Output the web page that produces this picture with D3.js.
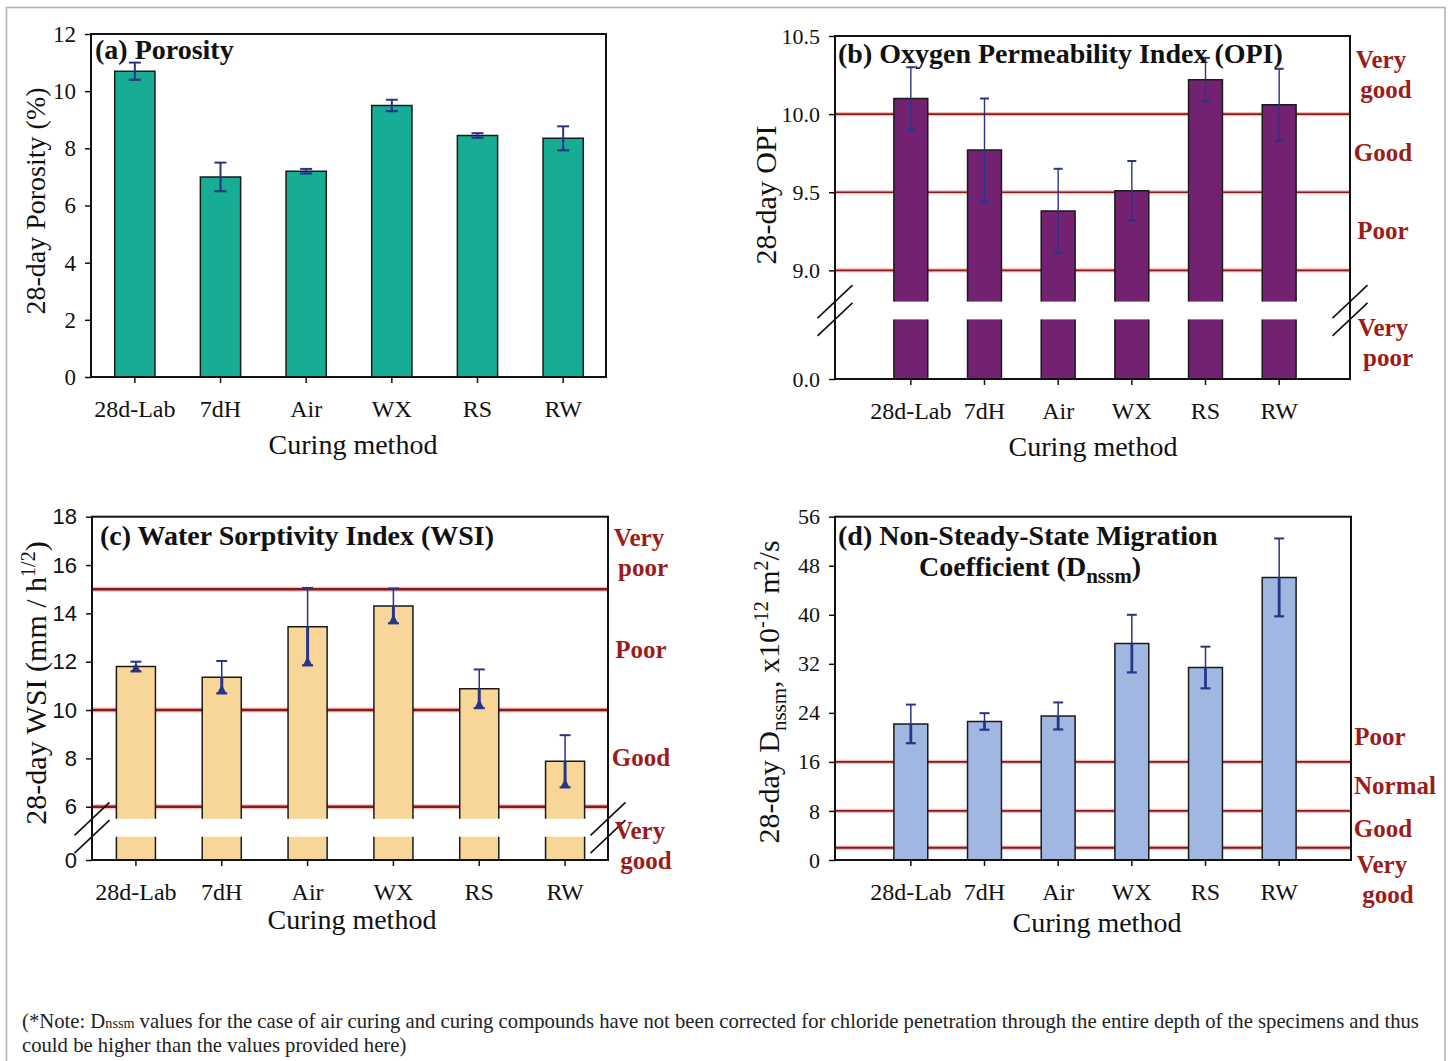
<!DOCTYPE html>
<html>
<head>
<meta charset="utf-8">
<script src="https://cdn.jsdelivr.net/npm/d3@7"></script>
<style>
  body { margin: 0; background: #fff; }
  svg { display: block; }
</style>
</head>
<body>
<svg id="fig" width="1450" height="1061"></svg>
<script>
// Curing methods shared by all four panels
const categories = ["28d-Lab", "7dH", "Air", "WX", "RS", "RW"];

// (a) 28-day porosity (%)
const porosity    = [10.7, 7.0, 7.2, 9.5, 8.45, 8.35];
const porosityErr = [0.3, 0.5, 0.08, 0.2, 0.08, 0.42];
const porosityTicks = [0, 2, 4, 6, 8, 10, 12];

// (b) 28-day oxygen permeability index
const opi    = [10.10, 9.77, 9.38, 9.51, 10.22, 10.06];
const opiErr = [0.20, 0.33, 0.27, 0.19, 0.14, 0.23];
const opiTicksUpper = [9.0, 9.5, 10.0, 10.5];
const opiTicksLower = [0.0];
const opiLimits = [9.0, 9.5, 10.0];
const opiClasses = [["Very", "good"], ["Good"], ["Poor"], ["Very", "poor"]];

// (c) 28-day water sorptivity index (mm / h^1/2)
const wsi    = [11.8, 11.36, 13.45, 14.31, 10.88, 7.88];
const wsiErr = [0.2, 0.67, 1.6, 0.72, 0.8, 1.08];
const wsiTicksUpper = [6, 8, 10, 12, 14, 16, 18];
const wsiTicksLower = [0];
const wsiLimits = [6, 10, 15];
const wsiClasses = [["Very", "poor"], ["Poor"], ["Good"], ["Very", "good"]];

// (d) 28-day non-steady-state migration coefficient (x10^-12 m2/s)
const dnssm    = [22.2, 22.6, 23.5, 35.3, 31.4, 46.1];
const dnssmErr = [3.15, 1.35, 2.2, 4.7, 3.4, 6.35];
const dnssmTicks = [0, 8, 16, 24, 32, 40, 48, 56];
const dnssmLimits = [2, 8, 16];
const dnssmClasses = [["Poor"], ["Normal"], ["Good"], ["Very", "good"]];

const noteText = "values for the case of air curing and curing compounds have not been corrected for chloride penetration through the entire depth of the specimens and thus";
const noteText2 = "could be higher than the values provided here)";

// ---------------------------------------------------------------------------
const SERIF = "'Liberation Serif','Times New Roman',serif";
const SANS = "'Liberation Sans',Arial,sans-serif";
const RED = "#9c1c1c";
const ERR = "#2a3486";

const svg = d3.select("#fig");

// outer figure border
svg.append("rect")
  .attr("x", 6.5).attr("y", 7.5).attr("width", 1438.5).attr("height", 1080)
  .attr("fill", "none").attr("stroke", "#b4b4b4").attr("stroke-width", 1.6);

function slash(g, cx, cy) {
  g.append("line")
    .attr("x1", cx - 17.5).attr("y1", cy + 16.5)
    .attr("x2", cx + 17.5).attr("y2", cy - 16.5)
    .attr("stroke", "#111").attr("stroke-width", 1.6);
}

function panel(o) {
  const g = svg.append("g");
  const x = d3.scaleBand().domain(categories).range(o.band)
    .paddingInner(o.pad).paddingOuter(o.pad / 2);
  const yU = d3.scaleLinear().domain(o.upper.domain).range(o.upper.range);
  const yL = o.lower ? d3.scaleLinear().domain(o.lower.domain).range(o.lower.range) : null;

  // class limit lines (behind the bars)
  (o.limits || []).forEach(v => {
    g.append("line").attr("x1", o.left).attr("x2", o.right)
      .attr("y1", yU(v)).attr("y2", yU(v))
      .attr("stroke", "rgba(225,110,110,0.45)").attr("stroke-width", o.limitW + 2.5);
    g.append("line").attr("x1", o.left).attr("x2", o.right)
      .attr("y1", yU(v)).attr("y2", yU(v))
      .attr("stroke", "#8a1a1a").attr("stroke-width", o.limitW);
  });

  const bw = x.bandwidth();
  const baseVal = o.lower ? o.upper.domain[0] : 0;

  // upper (or only) part of each bar
  const bars = g.append("g");
  o.values.forEach((v, i) => {
    const x0 = x(categories[i]), x1 = x0 + bw;
    const yb = yU(baseVal), yt = yU(v);
    bars.append("rect").attr("x", x0).attr("y", yt)
      .attr("width", bw).attr("height", yb - yt).attr("fill", o.fill);
    bars.append("path")
      .attr("d", `M${x0},${yb}V${yt}H${x1}V${yb}`)
      .attr("fill", "none").attr("stroke", "#1a1a1a").attr("stroke-width", 1.5);
    if (yL) {
      const lt = yL(o.lower.domain[1]), lb = yL(0);
      bars.append("rect").attr("x", x0).attr("y", lt)
        .attr("width", bw).attr("height", lb - lt).attr("fill", o.fill);
      bars.append("path")
        .attr("d", `M${x0},${lt}V${lb}M${x1},${lt}V${lb}`)
        .attr("fill", "none").attr("stroke", "#1a1a1a").attr("stroke-width", 1.5);
    }
  });

  // error bars
  const eg = g.append("g").attr("stroke", ERR).attr("fill", ERR);
  o.values.forEach((v, i) => {
    const e = o.errors[i];
    const cx = x(categories[i]) + bw / 2;
    const hi = yU(v + e), lo = yU(v - e), mid = yU(v);
    const cw = o.cap / 2;
    eg.append("line").attr("x1", cx).attr("x2", cx).attr("y1", mid).attr("y2", hi)
      .attr("stroke-width", o.errUp);
    eg.append("line").attr("x1", cx).attr("x2", cx).attr("y1", mid).attr("y2", lo)
      .attr("stroke-width", o.errLo);
    eg.append("line").attr("x1", cx - cw).attr("x2", cx + cw).attr("y1", hi).attr("y2", hi)
      .attr("stroke-width", 2);
    eg.append("line").attr("x1", cx - cw).attr("x2", cx + cw).attr("y1", lo).attr("y2", lo)
      .attr("stroke-width", 2.2);
    if (o.wedge) {
      eg.append("path")
        .attr("d", `M${cx - 4.5},${lo}L${cx},${lo - 9}L${cx + 4.5},${lo}Z`)
        .attr("stroke", "none");
    }
  });

  // frame
  g.append("rect").attr("x", o.left).attr("y", o.top)
    .attr("width", o.right - o.left).attr("height", o.bottom - o.top)
    .attr("fill", "none").attr("stroke", "#111").attr("stroke-width", 2);

  // y axes
  const styleAxis = (sel, font, size) => {
    sel.select(".domain").remove();
    sel.selectAll(".tick line").attr("stroke", "#111").attr("stroke-width", 1.5);
    sel.selectAll(".tick text").attr("fill", "#111")
      .style("font-family", font).style("font-size", size + "px");
  };
  const au = g.append("g").attr("transform", `translate(${o.left},0)`)
    .call(d3.axisLeft(yU).tickValues(o.ticksUpper).tickFormat(o.fmt)
      .tickSize(6).tickPadding(9));
  styleAxis(au, o.tickFont, o.tickSize);
  if (yL) {
    const al = g.append("g").attr("transform", `translate(${o.left},0)`)
      .call(d3.axisLeft(yL).tickValues(o.ticksLower).tickFormat(o.fmt)
        .tickSize(6).tickPadding(9));
    styleAxis(al, o.tickFont, o.tickSize);
  }

  // x axis
  const ax = g.append("g").attr("transform", `translate(0,${o.bottom})`)
    .call(d3.axisBottom(x).tickSize(6).tickPadding(17));
  styleAxis(ax, SERIF, 24);

  // axis break marks
  if (yL) {
    const cutTop = yU(o.upper.domain[0]);
    const cutBot = yL(o.lower.domain[1]);
    [o.left, o.right].forEach(px => { slash(g, px, cutTop); slash(g, px, cutBot); });
  }

  // x axis title
  g.append("text").attr("x", o.xTitleX).attr("y", o.xTitleY)
    .attr("text-anchor", "middle")
    .style("font-family", SERIF).style("font-size", "28px").attr("fill", "#111")
    .text("Curing method");

  return { g, x, yU, yL };
}

function classLabels(g, items, cx, size) {
  items.forEach(it => {
    const n = it.lines.length;
    it.lines.forEach((t, k) => {
      g.append("text")
        .attr("x", cx + (it.dx ? it.dx[k] : 0))
        .attr("y", it.cy + (k - (n - 1) / 2) * 30 + 8)
        .attr("text-anchor", "middle")
        .style("font-family", SERIF).style("font-size", size + "px")
        .style("font-weight", "bold").attr("fill", RED)
        .text(t);
    });
  });
}

function title(g, xPos, yPos, txt) {
  return g.append("text").attr("x", xPos).attr("y", yPos)
    .style("font-family", SERIF).style("font-size", "28px")
    .style("font-weight", "bold").attr("fill", "#111").text(txt);
}

function yTitle(g, xPos, yPos, size) {
  return g.append("text")
    .attr("transform", `translate(${xPos},${yPos}) rotate(-90)`)
    .attr("text-anchor", "middle")
    .style("font-family", SERIF).style("font-size", size + "px").attr("fill", "#111");
}

// ---------------------------------------------------------------- panel (a)
{
  const p = panel({
    left: 91, right: 606, top: 34, bottom: 377,
    band: [92, 606], pad: 0.53,
    upper: { domain: [0, 12], range: [377, 34] },
    values: porosity, errors: porosityErr, fill: "#17ad95",
    ticksUpper: porosityTicks, fmt: d3.format("d"),
    tickFont: SERIF, tickSize: 23,
    cap: 12, errUp: 2, errLo: 2.2, wedge: false,
    xTitleX: 353, xTitleY: 454
  });
  title(p.g, 95, 59, "(a) Porosity");
  yTitle(p.g, 45, 201, 28).text("28-day Porosity (%)");
}

// ---------------------------------------------------------------- panel (b)
{
  const p = panel({
    left: 835, right: 1350, top: 36, bottom: 379,
    band: [874, 1316], pad: 0.54,
    upper: { domain: [8.8, 10.5], range: [301.6, 36] },
    lower: { domain: [0, 1], range: [379, 319.4] },
    values: opi, errors: opiErr, fill: "#722270",
    ticksUpper: opiTicksUpper, ticksLower: opiTicksLower, fmt: d3.format(".1f"),
    tickFont: SERIF, tickSize: 22,
    limits: opiLimits, limitW: 1.6,
    cap: 9, errUp: 1.4, errLo: 1.4, wedge: false,
    xTitleX: 1093, xTitleY: 456
  });
  title(p.g, 838, 63, "(b) Oxygen Permeability Index (OPI)");
  yTitle(p.g, 776, 195, 30).text("28-day OPI");
  const y = p.yU;
  classLabels(p.g, [
    { lines: opiClasses[0], cy: (y(10.5) + y(10.0)) / 2, dx: [-2, 3] },
    { lines: opiClasses[1], cy: (y(10.0) + y(9.5)) / 2 },
    { lines: opiClasses[2], cy: (y(9.5) + y(9.0)) / 2 },
    { lines: opiClasses[3], cy: p.yL(0) - 36, dx: [0, 5] }
  ], 1383, 25);
}

// ---------------------------------------------------------------- panel (c)
{
  const p = panel({
    left: 92, right: 608, top: 516.7, bottom: 860,
    band: [93, 608], pad: 0.545,
    upper: { domain: [5.5, 18], range: [818.8, 516.7] },
    lower: { domain: [0, 1], range: [860, 836.7] },
    values: wsi, errors: wsiErr, fill: "#f7d698",
    ticksUpper: wsiTicksUpper, ticksLower: wsiTicksLower, fmt: d3.format("d"),
    tickFont: SANS, tickSize: 22,
    limits: wsiLimits, limitW: 2.4,
    cap: 11, errUp: 1.5, errLo: 3, wedge: true,
    xTitleX: 352, xTitleY: 929
  });
  title(p.g, 100, 545, "(c) Water Sorptivity Index (WSI)");
  const t = yTitle(p.g, 46, 683, 30);
  t.append("tspan").text("28-day WSI (mm / h");
  t.append("tspan").attr("dy", -11).style("font-size", "20px").text("1/2");
  t.append("tspan").attr("dy", 11).text(")");
  const y = p.yU;
  classLabels(p.g, [
    { lines: wsiClasses[0], cy: (y(18) + y(15)) / 2, dx: [-2, 2] },
    { lines: wsiClasses[1], cy: (y(15) + y(10)) / 2 },
    { lines: wsiClasses[2], cy: (y(10) + y(6)) / 2 },
    { lines: wsiClasses[3], cy: p.yL(0) - 14, dx: [-1, 5] }
  ], 641, 25);
}

// ---------------------------------------------------------------- panel (d)
{
  const p = panel({
    left: 835, right: 1351, top: 516.7, bottom: 860,
    band: [874, 1316], pad: 0.54,
    upper: { domain: [0, 56], range: [860, 516.7] },
    values: dnssm, errors: dnssmErr, fill: "#a0b7e2",
    ticksUpper: dnssmTicks, fmt: d3.format("d"),
    tickFont: SERIF, tickSize: 22,
    limits: dnssmLimits, limitW: 1.8,
    cap: 10, errUp: 1.5, errLo: 2.8, wedge: false,
    xTitleX: 1097, xTitleY: 932
  });
  title(p.g, 838, 545, "(d) Non-Steady-State Migration");
  const t2 = p.g.append("text").attr("x", 1030).attr("y", 576).attr("text-anchor", "middle")
    .style("font-family", SERIF).style("font-size", "28px")
    .style("font-weight", "bold").attr("fill", "#111");
  t2.append("tspan").text("Coefficient (D");
  t2.append("tspan").attr("dy", 7).style("font-size", "21px").text("nssm");
  t2.append("tspan").attr("dy", -7).text(")");

  const t = yTitle(p.g, 779, 692, 30);
  t.append("tspan").text("28-day D");
  t.append("tspan").attr("dy", 7).style("font-size", "21px").text("nssm");
  t.append("tspan").attr("dy", -7).text(", x10");
  t.append("tspan").attr("dy", -11).style("font-size", "20px").text("-12");
  t.append("tspan").attr("dy", 11).text(" m");
  t.append("tspan").attr("dy", -11).style("font-size", "20px").text("2");
  t.append("tspan").attr("dy", 11).text("/s");

  const y = p.yU;
  classLabels(p.g, [
    { lines: dnssmClasses[0], cy: y(16) - 25, dx: [-4] },
    { lines: dnssmClasses[1], cy: (y(16) + y(8)) / 2, dx: [11] },
    { lines: dnssmClasses[2], cy: (y(8) + y(2)) / 2, dx: [-1] },
    { lines: dnssmClasses[3], cy: y(0) + 20, dx: [-2, 4] }
  ], 1384, 25);
}

// ---------------------------------------------------------------- footnote
{
  const size = 19;
  const n1 = svg.append("text").attr("x", 22).attr("y", 1028)
    .style("font-family", SERIF).style("font-size", size + "px").attr("fill", "#222");
  n1.append("tspan").text("(*Note: D");
  n1.append("tspan").style("font-size", "13px").text("nssm");
  n1.append("tspan").text(" " + noteText);
  const w = n1.node().getComputedTextLength();
  const k = 1398 / w;
  n1.style("font-size", (size * k) + "px");
  n1.select("tspan:nth-child(2)").style("font-size", (13 * k) + "px");
  svg.append("text").attr("x", 22).attr("y", 1052)
    .style("font-family", SERIF).style("font-size", (size * k) + "px").attr("fill", "#222")
    .text(noteText2);
}
</script>
</body>
</html>
